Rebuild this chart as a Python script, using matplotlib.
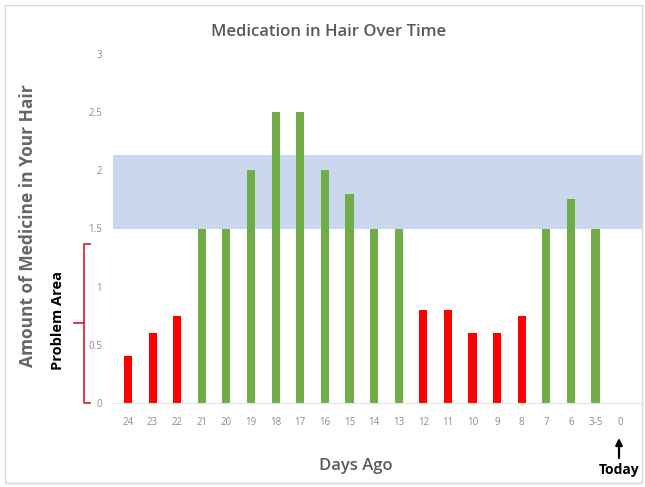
import matplotlib
matplotlib.use("Agg")
import matplotlib.pyplot as plt
from matplotlib.patches import Rectangle, FancyArrowPatch
from matplotlib.lines import Line2D

plt.rcParams['font.family'] = ['Open Sans', 'DejaVu Sans']

days = ["24", "23", "22", "21", "20", "19", "18", "17", "16", "15", "14",
        "13", "12", "11", "10", "9", "8", "7", "6", "3-5", "0"]
amounts = [0.4, 0.6, 0.75, 1.5, 1.5, 2.0, 2.5, 2.5, 2.0, 1.8, 1.5,
           1.5, 0.8, 0.8, 0.6, 0.6, 0.75, 1.5, 1.75, 1.5, 0.0]
target_low, target_high = 1.5, 2.13
problem_top = 1.37
y_ticks = [0, 0.5, 1, 1.5, 2, 2.5, 3]
y_tick_labels = ["0", "0.5", "1", "1.5", "2", "2.5", "3"]

RED = "#FF0000"
GREEN = "#70AD47"
GRAY = "#595959"

fig = plt.figure(figsize=(6.45, 4.87), dpi=100)
W, H = 645, 487

# axes placed in pixel coordinates
ax_left, ax_right = 113, 643
ax_top, ax_bottom = 54, 403
ax = fig.add_axes([ax_left / W, 1 - ax_bottom / H,
                   (ax_right - ax_left) / W, (ax_bottom - ax_top) / H])

x = list(range(len(days)))
colors = [RED if v < target_low else GREEN for v in amounts]

# target range band
ax.axhspan(target_low, target_high, color="#C9D7EF", zorder=0, lw=0)

ax.bar(x, amounts, width=0.33, color=colors, zorder=2)

ax.set_xlim(-0.61, 20.93)
ax.set_ylim(0, 3)
ax.set_xticks(x)
ax.set_xticklabels(days, fontsize=7, color="#8C8C8C")
ax.set_yticks(y_ticks)
ax.set_yticklabels(y_tick_labels, fontsize=7, color="#8C8C8C")
ax.tick_params(axis="both", length=0)
ax.tick_params(axis="x", pad=10)
ax.tick_params(axis="y", pad=8)
for side in ["top", "right", "left"]:
    ax.spines[side].set_visible(False)
ax.spines["bottom"].set_color("#E6E6E6")
ax.spines["bottom"].set_linewidth(0.8)

# titles
fig.text(329 / W, 1 - 32 / H, "Medication in Hair Over Time", ha="center", va="center",
         fontsize=12, color=GRAY, fontweight="semibold")
fig.text(356 / W, 1 - 466 / H, "Days Ago", ha="center", va="center",
         fontsize=12, color=GRAY, fontweight="semibold")
fig.text(28 / W, 1 - 226 / H, "Amount of Medicine in Your Hair", ha="center", va="center",
         rotation=90, fontsize=12.5, color="#666666", fontweight="bold")

# problem area bracket
fig.text(58 / W, 1 - 320 / H, "Problem Area", ha="center", va="center",
         rotation=90, fontsize=10.5, color="black", fontweight="bold")
trans = ax.get_yaxis_transform()
bx0, bx1, bxm = 84, 90, 74
def fx(px):
    return (px - ax_left) / (ax_right - ax_left)
bracket = Line2D([fx(bx1), fx(bx0), fx(bx0), fx(bx1)],
                 [problem_top, problem_top, 0, 0],
                 transform=trans, color="#DC2A40", lw=1.3, clip_on=False)
ax.add_line(bracket)
mid = problem_top / 2
ax.add_line(Line2D([fx(bxm), fx(bx0)], [mid, mid], transform=trans,
                   color="#DC2A40", lw=1.3, clip_on=False))

# today marker
arrow = FancyArrowPatch((619 / W, 1 - 458 / H), (619 / W, 1 - 438 / H),
                        transform=fig.transFigure, arrowstyle="-|>",
                        mutation_scale=10, color="black", lw=1.6,
                        shrinkA=0, shrinkB=0)
fig.patches.append(arrow)
fig.text(619 / W, 1 - 470 / H, "Today", ha="center", va="center",
         fontsize=10, color="black", fontweight="bold")

# outer frame
fig.patches.append(Rectangle((5 / W, 4 / H), 637 / W, 478 / H, transform=fig.transFigure,
                             fill=False, edgecolor="#D9D9D9", lw=1))

fig.savefig("out.png", dpi=100)
